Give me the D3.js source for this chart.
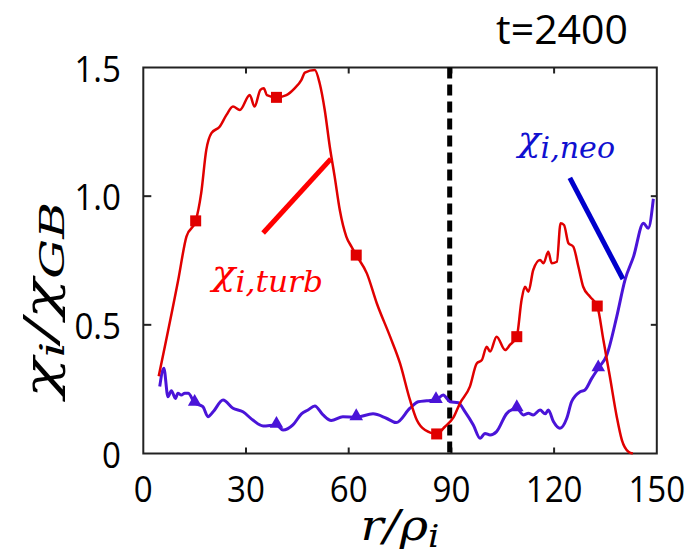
<!DOCTYPE html>
<html>
<head>
<meta charset="utf-8">
<script src="https://cdn.jsdelivr.net/npm/d3@7"></script>
<style>
  body { margin: 0; background: #fff; }
  svg { display: block; }
</style>
</head>
<body>
<div id="chart"></div>
<script>
// turbulent ion heat diffusivity (red) vs r/rho_i
var turbR = [4.5, 10.2, 12.6, 15.3, 16.9, 18.4, 19.9, 22.3, 24.3, 26.2,
             28.2, 31.1, 32.5, 34.2, 35.2, 36.1, 38.9, 41.8, 44.2, 46.2,
             47.2, 50.1, 51.5, 53.0, 54.5, 55.9, 57.4, 59.3, 60.8, 62.2,
             65.3, 68.2, 72.1, 75.0, 77.9, 79.9, 82.3, 85.7, 88.1, 90.6,
             92.5, 95.4, 97.4, 98.9, 100.3, 101.3, 103.2, 105.7, 107.1, 109.1,
             110.5, 111.5, 112.5, 113.9, 115.9, 116.9, 118.3, 119.3, 120.8, 121.9,
             122.9, 124.2, 125.6, 127.1, 128.5, 130.5, 132.6, 134.4, 136.3, 138.3,
             139.8, 141.7, 143.0];
var turbChi = [0.30, 0.674, 0.843, 0.904, 1.011, 1.18, 1.245, 1.27, 1.316, 1.348,
               1.335, 1.393, 1.348, 1.413, 1.419, 1.393, 1.384, 1.393, 1.419, 1.452,
               1.48, 1.49, 1.44, 1.335, 1.19, 1.076, 0.946, 0.843, 0.804, 0.771,
               0.70, 0.584, 0.454, 0.35, 0.208, 0.13, 0.091, 0.076, 0.104, 0.14,
               0.195, 0.26, 0.35, 0.363, 0.415, 0.396, 0.454, 0.402, 0.422, 0.454,
               0.597, 0.648, 0.629, 0.713, 0.752, 0.739, 0.784, 0.739, 0.745, 0.895,
               0.888, 0.817, 0.804, 0.726, 0.648, 0.609, 0.573, 0.441, 0.298, 0.143,
               0.052, 0.007, 0.0];

// neoclassical ion heat diffusivity (blue)
var neoR = [4.8, 6.0, 7.2, 8.2, 9.4, 10.1, 11.1, 12.1, 13.1, 15.0,
            17.4, 18.9, 20.4, 23.3, 26.2, 29.1, 32.0, 35.0, 38.9, 40.8,
            43.7, 46.2, 48.1, 50.1, 52.5, 54.9, 58.3, 62.2, 67.1, 71.0,
            73.9, 77.9, 80.3, 82.8, 85.5, 87.6, 89.6, 92.0, 94.0, 96.4,
            98.4, 99.8, 101.3, 103.2, 106.2, 109.1, 111.0, 112.5, 113.9, 115.9,
            117.4, 118.3, 119.8, 121.7, 123.7, 125.1, 127.6, 129.0, 131.0, 132.9,
            135.4, 138.3, 140.7, 143.2, 146.1, 147.5, 149.0];
var neoChi = [0.26, 0.331, 0.221, 0.244, 0.214, 0.234, 0.227, 0.234, 0.234, 0.197,
              0.182, 0.143, 0.162, 0.208, 0.176, 0.162, 0.13, 0.107, 0.111, 0.091,
              0.111, 0.154, 0.169, 0.185, 0.15, 0.128, 0.143, 0.141, 0.154, 0.137,
              0.12, 0.176, 0.201, 0.205, 0.208, 0.227, 0.201, 0.197, 0.162, 0.111,
              0.059, 0.078, 0.072, 0.085, 0.156, 0.176, 0.15, 0.156, 0.15, 0.169,
              0.154, 0.169, 0.124, 0.098, 0.137, 0.201, 0.24, 0.247, 0.292, 0.331,
              0.383, 0.532, 0.674, 0.765, 0.895, 0.875, 0.99];

// marker positions
var turbMarkR = [15.3, 38.9, 62.2, 85.7, 109.1, 132.6];
var turbMarkChi = [0.904, 1.384, 0.771, 0.076, 0.454, 0.573];
var neoMarkR = [15.0, 38.9, 62.2, 85.5, 109.1, 132.9];
var neoMarkChi = [0.197, 0.111, 0.141, 0.208, 0.176, 0.331];

var xTicks = [0, 30, 60, 90, 120, 150];
var yTicks = [0, 0.5, 1.0, 1.5];
var yTickLabels = ["0", "0.5", "1.0", "1.5"];
var separatrixR = 89.5;

var width = 688, height = 554;
var margin = { top: 67.5, right: 31.2, bottom: 100.5, left: 143.3 };

var svg = d3.select("#chart").append("svg")
    .attr("width", width)
    .attr("height", height);

var x = d3.scaleLinear().domain([0, 150]).range([margin.left, width - margin.right]);
var y = d3.scaleLinear().domain([0, 1.5]).range([height - margin.bottom, margin.top]);

var labelFont = "'Open Sans', 'Noto Sans', sans-serif";
var mathFont = "'DejaVu Serif', 'Liberation Serif', serif";

// frame
svg.append("rect")
    .attr("x", x(0)).attr("y", y(1.5))
    .attr("width", x(150) - x(0)).attr("height", y(0) - y(1.5))
    .attr("fill", "none").attr("stroke", "#222").attr("stroke-width", 2);

// inward ticks
var tickLen = 6;
xTicks.slice(1, -1).forEach(function (t) {
    svg.append("line").attr("x1", x(t)).attr("x2", x(t))
        .attr("y1", y(0)).attr("y2", y(0) - tickLen)
        .attr("stroke", "#222").attr("stroke-width", 2);
    svg.append("line").attr("x1", x(t)).attr("x2", x(t))
        .attr("y1", y(1.5)).attr("y2", y(1.5) + tickLen)
        .attr("stroke", "#222").attr("stroke-width", 2);
});
yTicks.slice(1, -1).forEach(function (t) {
    svg.append("line").attr("x1", x(0)).attr("x2", x(0) + tickLen + 2)
        .attr("y1", y(t)).attr("y2", y(t))
        .attr("stroke", "#222").attr("stroke-width", 2);
    svg.append("line").attr("x1", x(150)).attr("x2", x(150) - tickLen)
        .attr("y1", y(t)).attr("y2", y(t))
        .attr("stroke", "#222").attr("stroke-width", 2);
});

// tick labels
svg.selectAll(".xlab")
    .data(xTicks)
    .enter().append("text")
    .attr("class", "xlab")
    .attr("transform", function (d) { return "translate(" + x(d) + "," + 502 + ") scale(0.92,1)"; })
    .attr("text-anchor", "middle")
    .style("font-family", labelFont)
    .style("font-size", "36px")
    .attr("fill", "#000")
    .text(function (d) { return d; });

svg.selectAll(".ylab")
    .data(yTicks)
    .enter().append("text")
    .attr("class", "ylab")
    .attr("transform", function (d) { return "translate(" + 121 + "," + (y(d) + 14) + ") scale(0.92,1)"; })
    .attr("text-anchor", "end")
    .style("font-family", labelFont)
    .style("font-size", "36px")
    .attr("fill", "#000")
    .text(function (d, i) { return yTickLabels[i]; });

// title
svg.append("text")
    .attr("transform", "translate(562,44)")
    .attr("text-anchor", "middle")
    .style("font-family", labelFont)
    .style("font-size", "41px")
    .text("t=2400");

// separatrix
svg.append("line")
    .attr("x1", x(separatrixR)).attr("x2", x(separatrixR))
    .attr("y1", y(1.5)).attr("y2", y(0))
    .attr("stroke", "#000").attr("stroke-width", 5)
    .attr("stroke-dasharray", "11,6");

var line = d3.line()
    .x(function (d) { return x(d[0]); })
    .y(function (d) { return y(d[1]); })
    .curve(d3.curveMonotoneX);

var turbData = turbR.map(function (r, i) { return [r, turbChi[i]]; });
var neoData = neoR.map(function (r, i) { return [r, neoChi[i]]; });

var redC = "#e00000", blueC = "#4a14d8";

svg.append("path")
    .attr("d", line(neoData))
    .attr("fill", "none").attr("stroke", blueC).attr("stroke-width", 3)
    .attr("stroke-linejoin", "round");

svg.append("path")
    .attr("d", line(turbData))
    .attr("fill", "none").attr("stroke", redC).attr("stroke-width", 2.5)
    .attr("stroke-linejoin", "round");

svg.selectAll(".sq")
    .data(turbMarkR)
    .enter().append("rect")
    .attr("class", "sq")
    .attr("x", function (d) { return x(d) - 5.5; })
    .attr("y", function (d, i) { return y(turbMarkChi[i]) - 5.5; })
    .attr("width", 11).attr("height", 11)
    .attr("fill", redC);

var tri = d3.symbol().type(d3.symbolTriangle).size(80);
svg.selectAll(".tri")
    .data(neoMarkR)
    .enter().append("path")
    .attr("class", "tri")
    .attr("d", tri)
    .attr("transform", function (d, i) { return "translate(" + x(d) + "," + (y(neoMarkChi[i]) - 1) + ")"; })
    .attr("fill", blueC);

// annotation pointers
svg.append("line")
    .attr("x1", x(35.0)).attr("y1", y(0.857))
    .attr("x2", x(54.8)).attr("y2", y(1.145))
    .attr("stroke", "#ff0000").attr("stroke-width", 5);
svg.append("line")
    .attr("x1", x(124.6)).attr("y1", y(1.071))
    .attr("x2", x(140.1)).attr("y2", y(0.678))
    .attr("stroke", "#0000cc").attr("stroke-width", 5);

// annotation labels
function mathLabel(tx, ty, main, sub, color, size, subSize, len) {
    var t = svg.append("text")
        .attr("transform", "translate(" + tx + "," + ty + ")")
        .attr("textLength", len)
        .attr("lengthAdjust", "spacingAndGlyphs")
        .style("font-family", mathFont)
        .style("font-style", "italic")
        .style("font-size", size + "px")
        .attr("fill", color);
    t.append("tspan").text(main);
    t.append("tspan").attr("dy", size * 0.2).style("font-size", subSize + "px").text(sub);
    return t;
}
mathLabel(212, 285, "χ", "i,turb", "#ff0000", 36, 29, 111);
mathLabel(518, 151, "χ", "i,neo", "#1010d0", 36, 29, 97);

// axis titles
var yt = svg.append("text")
    .attr("transform", "translate(56,300) rotate(-90)")
    .attr("text-anchor", "middle")
    .attr("textLength", 196)
    .attr("lengthAdjust", "spacingAndGlyphs")
    .style("font-family", mathFont)
    .style("font-style", "italic")
    .style("font-size", "44px");
yt.append("tspan").text("χ");
yt.append("tspan").attr("dy", 8).style("font-size", "33px").text("i");
yt.append("tspan").attr("dy", -8).text("/χ");
yt.append("tspan").attr("dy", 8).style("font-size", "33px").text("GB");

var xt = svg.append("text")
    .attr("transform", "translate(400,540)")
    .attr("text-anchor", "middle")
    .attr("textLength", 79)
    .attr("lengthAdjust", "spacingAndGlyphs")
    .style("font-family", mathFont)
    .style("font-style", "italic")
    .style("font-size", "42px");
xt.append("tspan").text("r/ρ");
xt.append("tspan").attr("dy", 7).style("font-size", "31px").text("i");
</script>
</body>
</html>
